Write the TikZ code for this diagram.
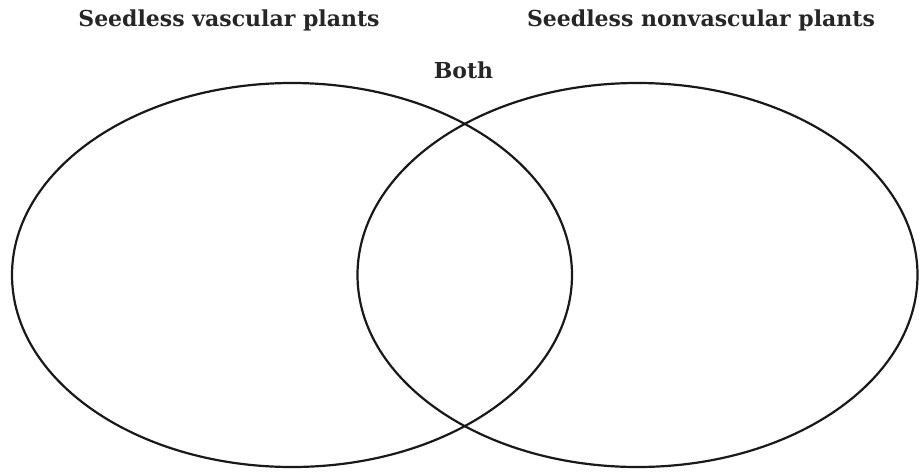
\documentclass[tikz,border=0pt]{standalone}
\usepackage{fontspec}
\setmainfont{DejaVu Serif}
\usetikzlibrary{positioning,shapes.geometric}

\begin{document}
\begin{tikzpicture}[
    x=1pt, y=-1pt,
    set/.style={ellipse, draw=black!90, line width=2.2pt, minimum width=560pt, minimum height=384pt, inner sep=0pt},
    title/.style={font=\fontsize{22}{24}\selectfont\bfseries, text=black!85, inner sep=0pt, anchor=base}
]
\useasboundingbox (0,0) rectangle (924,472);
% Sets
\node[set] (vascular) at (292,275) {};
\node[set] (nonvascular) at (637.5,275) {};

% Labels
\node[title] (vasclabel) at (229,26) {Seedless vascular plants};
\node[title] (nonvasclabel) at (701,26) {Seedless nonvascular plants};
\node[title] (bothlabel) at (463.5,78) {Both};
\end{tikzpicture}
\end{document}
